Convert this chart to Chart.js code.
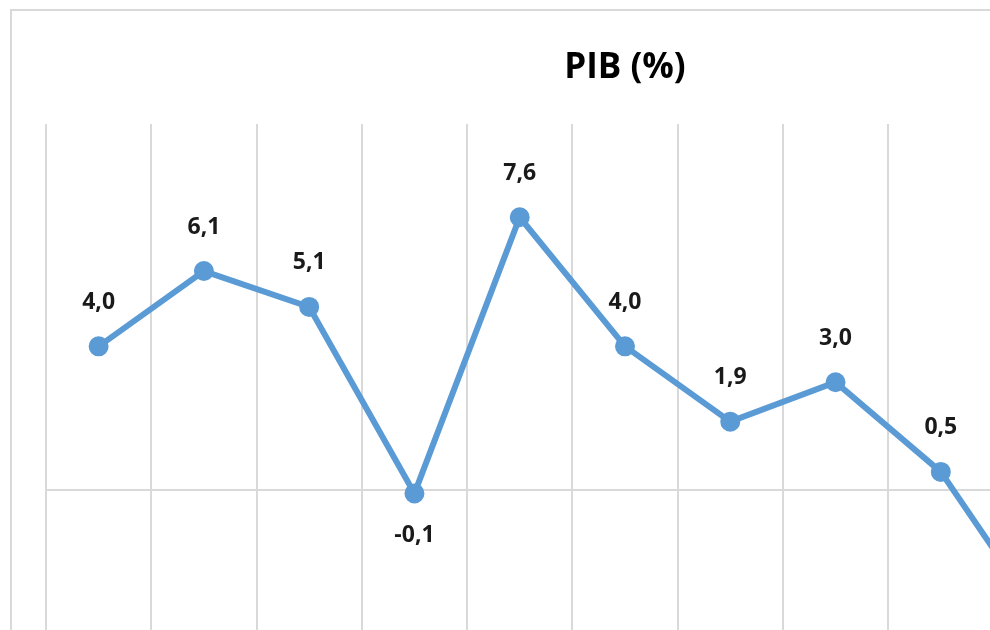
<!DOCTYPE html>
<html>
<head>
<meta charset="utf-8">
<script src="https://cdn.jsdelivr.net/npm/chart.js@4.4.1/dist/chart.umd.min.js"></script>
<style>
    html, body { margin: 0; padding: 0; background: #fff; overflow: hidden; }
    #frame {
        position: absolute;
        left: 10px;
        top: 9px;
        width: 1236px;
        height: 800px;
        border-left: 2px solid #d9d9d9;
        border-top: 2px solid #d9d9d9;
    }
    #pibChart { display: block; }
</style>
</head>
<body>
<div id="frame">
    <canvas id="pibChart" width="1222" height="707"></canvas>
</div>
<script>
// years (x labels are cut off in the picture, only the points show)
const years = ['2006', '2007', '2008', '2009', '2010', '2011', '2012', '2013', '2014', '2015', '2016'];
// PIB growth, %
const pib = [4.0, 6.1, 5.1, -0.1, 7.6, 4.0, 1.9, 3.0, 0.5, -3.8, -3.6];

const lineBlue = '#5b9bd5';
const gridGray = '#d9d9d9';

// simple value labels, comma as decimal separator
const valueLabels = {
    id: 'valueLabels',
    afterDatasetsDraw(chart) {
        const ctx = chart.ctx;
        const meta = chart.getDatasetMeta(0);
        ctx.save();
        ctx.font = 'bold 23px "Open Sans", sans-serif';
        ctx.fillStyle = '#1a1a1a';
        ctx.textAlign = 'center';
        ctx.textBaseline = 'middle';
        meta.data.forEach((pt, i) => {
            const v = pib[i];
            const txt = v.toFixed(1).replace('.', ',');
            const y = v >= 0 ? pt.y - 44 : pt.y + 42;
            ctx.fillText(txt, pt.x, y);
        });
        ctx.restore();
    }
};

new Chart(document.getElementById('pibChart').getContext('2d'), {
    type: 'line',
    data: {
        labels: years,
        datasets: [{
            label: 'PIB (%)',
            data: pib,
            borderColor: lineBlue,
            backgroundColor: lineBlue,
            borderWidth: 6,
            pointRadius: 7,
            pointHoverRadius: 7,
            pointBackgroundColor: lineBlue,
            pointBorderColor: lineBlue,
            tension: 0
        }]
    },
    options: {
        responsive: false,
        animation: false,
        layout: {
            padding: { left: 34, right: 30, top: 0, bottom: 0 }
        },
        plugins: {
            legend: { display: false },
            tooltip: { enabled: false },
            title: {
                display: true,
                text: 'PIB (%)',
                color: '#000',
                font: { family: '"Open Sans", sans-serif', size: 35, weight: 'bold' },
                padding: { top: 36, bottom: 35 }
            }
        },
        scales: {
            x: {
                offset: true,
                border: { display: false },
                grid: {
                    offset: true,
                    color: gridGray,
                    lineWidth: 2,
                    drawTicks: false
                },
                ticks: { display: false }
            },
            y: {
                min: -6,
                max: 10.2,
                border: { display: false },
                grid: {
                    drawTicks: false,
                    lineWidth: 2,
                    color: (c) => c.tick && c.tick.value === 0 ? gridGray : 'rgba(0,0,0,0)'
                },
                ticks: { display: false, stepSize: 1 }
            }
        }
    },
    plugins: [valueLabels]
});
</script>
</body>
</html>
